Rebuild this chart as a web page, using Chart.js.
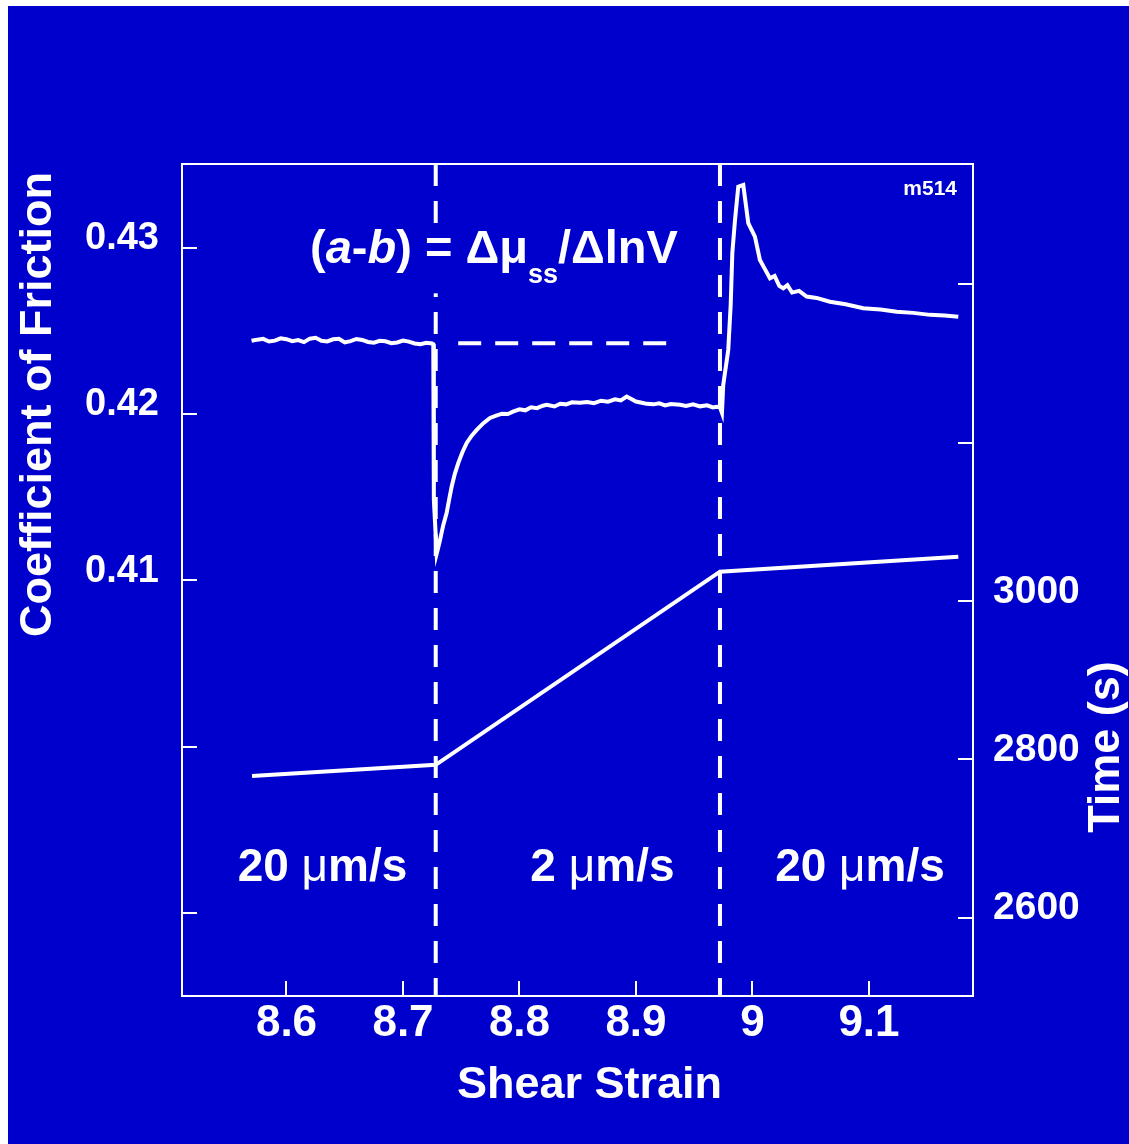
<!DOCTYPE html>
<html>
<head>
<meta charset="utf-8">
<title>Velocity step m514</title>
<script src="https://cdn.jsdelivr.net/npm/chart.js@4.4.0/dist/chart.umd.min.js"></script>
<style>
  html, body { margin: 0; padding: 0; background: #ffffff; }
  #wrap { position: absolute; left: 8px; top: 6px; width: 1121px; height: 1138px; background: #0000cc; }
</style>
</head>
<body>
<div id="wrap"><canvas id="chart" width="1121" height="1138"></canvas></div>
<script>
'use strict';
//friction record (left axis) against shear strain
var strainFriction = [
  8.570, 8.575, 8.580, 8.585, 8.590, 8.595, 8.600, 8.605, 8.610, 8.615,
  8.620, 8.625, 8.630, 8.635, 8.640, 8.645, 8.650, 8.655, 8.660, 8.665,
  8.670, 8.675, 8.680, 8.685, 8.690, 8.695, 8.700, 8.705, 8.710, 8.715,
  8.720, 8.725, 8.7260, 8.7265,
  8.7289, 8.7300, 8.7318, 8.7345, 8.7375, 8.7400, 8.7418, 8.7445, 8.7475, 8.7510,
  8.7547, 8.7590, 8.7633, 8.7690, 8.7747, 8.7800, 8.7850, 8.7900, 8.7944, 8.8000,
  8.8050, 8.8100, 8.8150, 8.8200, 8.8234, 8.8300, 8.8350, 8.8400, 8.8450, 8.8519,
  8.8580, 8.8640, 8.8700, 8.8760, 8.8820, 8.8870, 8.8920, 8.8960, 8.9000, 8.9050,
  8.9092, 8.9150, 8.9200, 8.9250, 8.9300, 8.9378, 8.9430, 8.9490, 8.9550, 8.9610,
  8.9660, 8.9693, 8.9721, 8.9738,
  8.9749, 8.9792, 8.9813, 8.9827, 8.9850, 8.9878, 8.9921, 8.9964, 9.0021, 9.0064,
  9.0100, 9.0150, 9.0190, 9.0230, 9.0264, 9.0300, 9.0340, 9.0400, 9.0465, 9.0550,
  9.0665, 9.0800, 9.0951, 9.1100, 9.1238, 9.1380, 9.1524, 9.1650, 9.1767
];
var friction = [
  0.42440, 0.42447, 0.42452, 0.42436, 0.42441, 0.42455, 0.42450, 0.42438, 0.42444, 0.42432,
  0.42453, 0.42458, 0.42440, 0.42436, 0.42449, 0.42452, 0.42430, 0.42438, 0.42451, 0.42445,
  0.42433, 0.42429, 0.42440, 0.42437, 0.42426, 0.42430, 0.42441, 0.42435, 0.42424, 0.42419,
  0.42428, 0.42424, 0.42420, 0.41484,
  0.41160, 0.41190, 0.41243, 0.41330, 0.41406, 0.41500, 0.41564, 0.41640, 0.41706, 0.41770,
  0.41826, 0.41870, 0.41904, 0.41945, 0.41976, 0.41990, 0.42002, 0.42000, 0.42014, 0.42028,
  0.42022, 0.42040, 0.42035, 0.42050, 0.42055, 0.42045, 0.42062, 0.42058, 0.42070, 0.42067,
  0.42072, 0.42065, 0.42080, 0.42074, 0.42088, 0.42082, 0.42105, 0.42090, 0.42075, 0.42068,
  0.42061, 0.42058, 0.42064, 0.42052, 0.42060, 0.42055, 0.42048, 0.42058, 0.42046, 0.42052,
  0.42040, 0.42044, 0.42040, 0.42007,
  0.42175, 0.42385, 0.42656, 0.42968, 0.43166, 0.43367, 0.43377, 0.43148, 0.43066, 0.42926,
  0.42880, 0.42816, 0.42830, 0.42770, 0.42756, 0.42775, 0.42730, 0.42740, 0.42706, 0.42698,
  0.42675, 0.42660, 0.42636, 0.42628, 0.42615, 0.42608, 0.42596, 0.42592, 0.42585
];
//elapsed time (right axis)
var strainTime = [8.5704, 8.7281, 8.9721, 9.1767];
var time = [2779, 2793, 3037, 3056];
//load point velocity steps and the extrapolated steady state level
var stepStrains = [8.7281, 8.9721];
var steadyStrain = [8.7474, 8.9262];
var steadyFriction = 0.42425;
var velocityText = ['20 ', '2 ', '20 '];
var velocityStrain = [8.6309, 8.8712, 9.0923];
//axes
var strainTicks = [8.6, 8.7, 8.8, 8.9, 9.0, 9.1];
var strainLabels = ['8.6', '8.7', '8.8', '8.9', '9', '9.1'];
var frictionTicks = [0.39, 0.40, 0.41, 0.42, 0.43];
var frictionLabels = ['', '', '0.41', '0.42', '0.43'];
var timeTicks = [2600, 2800, 3000, 3200, 3400];
var timeLabels = ['2600', '2800', '3000', '', ''];
var strainMin = 8.5103, strainMax = 9.1893;
var frictionMin = 0.38501, frictionMax = 0.43503;
var timeMin = 2501, timeMax = 3552;

var white = '#ffffff';
var blue = '#0000cc';
var family = "'Liberation Sans', Arial, Helvetica, sans-serif";

function pairs(xs, ys) {
  return xs.map(function (x, i) { return {x: x, y: ys[i]}; });
}
function font(size, weight, style) {
  return (style || 'normal') + ' ' + weight + ' ' + size + 'px ' + family;
}
//draws a row of text pieces with their own fonts, one after the other;
//with a knockout the row gets a background box that hides lines under it
function drawRuns(ctx, runs, px, py, align, knockout) {
  var total = 0;
  runs.forEach(function (r) {
    ctx.font = r.font;
    r.w = ctx.measureText(r.text).width;
    total += r.w;
  });
  var cx = align === 'center' ? px - total / 2 : (align === 'right' ? px - total : px);
  if (knockout) {
    ctx.save();
    ctx.fillStyle = blue;
    ctx.fillRect(cx - 6, py - knockout[0], total + 12, knockout[0] + knockout[1]);
    ctx.restore();
  }
  ctx.textAlign = 'left';
  runs.forEach(function (r) {
    ctx.font = r.font;
    ctx.fillText(r.text, cx, py + (r.dy || 0));
    cx += r.w;
  });
}
function fixedTicks(values) {
  return function (axis) { axis.ticks = values.map(function (v) { return {value: v}; }); };
}

var figureText = {
  id: 'figureText',
  afterDraw: function (chart) {
    var ctx = chart.ctx, a = chart.chartArea;
    var sx = chart.scales.x, sy = chart.scales.y;
    ctx.save();
    ctx.fillStyle = white;
    ctx.textBaseline = 'alphabetic';

    drawRuns(ctx, [
      {text: '(', font: font(47, 'bold')},
      {text: 'a', font: font(47, 'bold', 'italic')},
      {text: '-', font: font(47, 'bold')},
      {text: 'b', font: font(47, 'bold', 'italic')},
      {text: ') = \u0394\u03bc', font: font(47, 'bold')},
      {text: 'ss', font: font(27, 'bold'), dy: 20},
      {text: '/\u0394lnV', font: font(47, 'bold')}
    ], sx.getPixelForValue(8.6202), sy.getPixelForValue(0.42906), 'left', [36, 30]);

    velocityStrain.forEach(function (s, i) {
      drawRuns(ctx, [
        {text: velocityText[i], font: font(46, 'bold')},
        {text: '\u03bc', font: font(46, 'normal')},
        {text: 'm/s', font: font(46, 'bold')}
      ], sx.getPixelForValue(s), sy.getPixelForValue(0.3919), 'center');
    });

    ctx.font = font(21, 'bold');
    ctx.textAlign = 'right';
    ctx.fillText('m514', a.right - 16, a.top + 31);

    ctx.font = font(45, 'bold');
    ctx.textAlign = 'center';
    ctx.fillText('Shear Strain', (a.left + a.right) / 2 + 12, a.bottom + 102);

    ctx.save();
    ctx.translate(a.left - 131, a.top + 8);
    ctx.rotate(-Math.PI / 2);
    ctx.textAlign = 'right';
    ctx.fillText('Coefficient of Friction', 0, 0);
    ctx.restore();

    ctx.save();
    ctx.translate(a.right + 146, a.top + 583);
    ctx.rotate(-Math.PI / 2);
    ctx.textAlign = 'center';
    ctx.fillText('Time (s)', 0, 0);
    ctx.restore();

    ctx.restore();
  }
};

var lineStyle = {borderColor: white, borderWidth: 4, pointRadius: 0, tension: 0, fill: false};
var datasets = [
  Object.assign({label: 'Friction', data: pairs(strainFriction, friction), yAxisID: 'y'}, lineStyle),
  Object.assign({label: 'Time', data: pairs(strainTime, time), yAxisID: 'y2'}, lineStyle),
  Object.assign({label: 'Steady state', yAxisID: 'y', borderDash: [23, 14],
    data: steadyStrain.map(function (s) { return {x: s, y: steadyFriction}; })}, lineStyle)
];
stepStrains.forEach(function (s) {
  datasets.push(Object.assign({label: 'Velocity step', yAxisID: 'y', borderDash: [22, 15],
    data: [{x: s, y: frictionMax}, {x: s, y: frictionMin}]}, lineStyle));
});

var tickGrid = {display: true, drawOnChartArea: false, color: white, lineWidth: 2, tickLength: -15};
var frame = {color: white, width: 2};

var ctx = document.getElementById('chart').getContext('2d');
var chart = new Chart(ctx, {
  type: 'line',
  data: {datasets: datasets},
  options: {
    responsive: false,
    maintainAspectRatio: false,
    animation: false,
    layout: {padding: {top: 158, left: 0, right: 0, bottom: 0}},
    plugins: {legend: {display: false}, tooltip: {enabled: false}, title: {display: false}},
    scales: {
      x: {
        type: 'linear', position: 'bottom', min: strainMin, max: strainMax,
        afterBuildTicks: fixedTicks(strainTicks),
        afterFit: function (axis) { axis.height = 148; },
        grid: tickGrid, border: frame,
        ticks: {
          color: white, padding: 16, maxRotation: 0, autoSkip: false,
          font: {family: family, size: 44, weight: 'bold'},
          callback: function (v, i) { return strainLabels[i]; }
        }
      },
      xTop: {
        type: 'linear', position: 'top', min: strainMin, max: strainMax,
        afterFit: function (axis) { axis.height = 0; },
        grid: {display: false}, border: frame, ticks: {display: false}
      },
      y: {
        type: 'linear', position: 'left', min: frictionMin, max: frictionMax,
        afterBuildTicks: fixedTicks(frictionTicks),
        afterFit: function (axis) { axis.width = 174; },
        grid: tickGrid, border: frame,
        ticks: {
          color: white, padding: 38, labelOffset: -9, autoSkip: false,
          font: {family: family, size: 38, weight: 'bold'},
          callback: function (v, i) { return frictionLabels[i]; }
        }
      },
      y2: {
        type: 'linear', position: 'right', min: timeMin, max: timeMax,
        afterBuildTicks: fixedTicks(timeTicks),
        afterFit: function (axis) { axis.width = 156; },
        grid: tickGrid, border: frame,
        ticks: {
          color: white, padding: 35, labelOffset: -9, autoSkip: false,
          font: {family: family, size: 39, weight: 'bold'},
          callback: function (v, i) { return timeLabels[i]; }
        }
      }
    }
  },
  plugins: [figureText]
});
</script>
</body>
</html>
